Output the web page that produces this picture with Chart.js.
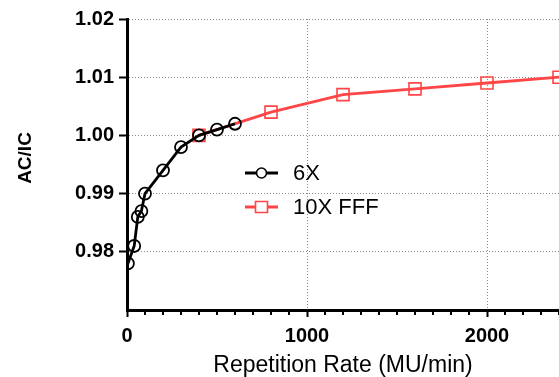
<!DOCTYPE html>
<html><head><meta charset="utf-8">
<script src="https://cdn.jsdelivr.net/npm/chart.js@4"></script>
<style>html,body{margin:0;padding:0;background:#fff;overflow:hidden}</style>
</head><body>
<canvas id="c" width="559" height="377"></canvas>
<script>
const x6X = [5, 40, 60, 80, 100, 200, 300, 400, 500, 600];
const y6X = [0.978, 0.981, 0.986, 0.987, 0.990, 0.994, 0.998, 1.000, 1.001, 1.002];
const xFFF = [400, 800, 1200, 1600, 2000, 2400];
const yFFF = [1.000, 1.004, 1.007, 1.008, 1.009, 1.010];
const seriesNames = ['6X', '10X FFF'];
const xMajorTicks = [0, 1000, 2000];
const yTickLabels = ['0.98', '0.99', '1.00', '1.01', '1.02'];
const xTitle = 'Repetition Rate (MU/min)';
const yTitle = 'AC/IC';

const FONT = "'Liberation Sans', Arial, sans-serif";
const BLACK = '#000000';
const RED = '#ff4545';
const GRID = '#8a8a8a';

const toPts = (xs, ys) => xs.map((x, i) => ({x: x, y: ys[i]}));
const isMajorX = v => xMajorTicks.includes(v);
const yLabelFor = v => { const s = v.toFixed(2); return yTickLabels.includes(s) ? s : ''; };

const minorTicks = {
  id: 'minorTicks',
  afterDraw(chart) {
    const s = chart.scales.x, ctx = chart.ctx;
    ctx.save();
    ctx.strokeStyle = BLACK; ctx.lineWidth = 2;
    for (let v = s.min + 100; v <= s.max; v += 100) {
      if (isMajorX(v)) continue;
      const px = Math.round(s.getPixelForValue(v));
      ctx.beginPath(); ctx.moveTo(px, s.top); ctx.lineTo(px, s.top + 5); ctx.stroke();
    }
    ctx.restore();
  }
};

const yAxisTitle = {
  id: 'yAxisTitle',
  afterDraw(chart) {
    const ctx = chart.ctx;
    ctx.save();
    ctx.translate(26, 158);
    ctx.rotate(-Math.PI / 2);
    ctx.fillStyle = BLACK;
    ctx.font = 'bold 19px ' + FONT;
    ctx.textAlign = 'center'; ctx.textBaseline = 'middle';
    ctx.fillText(yTitle, 0, 0);
    ctx.restore();
  }
};

const legendInside = {
  id: 'legendInside',
  afterDraw(chart) {
    const ctx = chart.ctx;
    const rows = [
      {ds: chart.data.datasets[0], y: 173},
      {ds: chart.data.datasets[1], y: 207}
    ];
    ctx.save();
    rows.forEach(r => {
      const x0 = 245, x1 = 278, cx = 261.5;
      ctx.strokeStyle = r.ds.borderColor; ctx.lineWidth = 3;
      ctx.beginPath(); ctx.moveTo(x0, r.y); ctx.lineTo(x1, r.y); ctx.stroke();
      ctx.lineWidth = 1.6; ctx.fillStyle = '#fff';
      if (r.ds.pointStyle === 'circle') {
        ctx.beginPath(); ctx.arc(cx, r.y, 5, 0, Math.PI * 2); ctx.fill(); ctx.stroke();
      } else {
        ctx.beginPath(); ctx.rect(cx - 6, r.y - 5.5, 12, 11); ctx.fill(); ctx.stroke();
      }
      ctx.fillStyle = BLACK; ctx.font = '22px ' + FONT;
      ctx.textBaseline = 'middle'; ctx.textAlign = 'left';
      ctx.fillText(r.ds.label, 293, r.y + 1);
    });
    ctx.restore();
  }
};

new Chart(document.getElementById('c'), {
  type: 'line',
  data: {
    datasets: [
      {
        label: seriesNames[0], data: toPts(x6X, y6X),
        borderColor: BLACK, borderWidth: 2.8, backgroundColor: '#fff',
        pointStyle: 'circle', pointRadius: 6, pointBorderWidth: 1.8,
        pointBackgroundColor: 'rgba(255,255,255,0)', pointBorderColor: BLACK,
        tension: 0, order: 1
      },
      {
        label: seriesNames[1], data: toPts(xFFF, yFFF),
        borderColor: RED, borderWidth: 2.8, backgroundColor: '#fff',
        pointStyle: 'rect', pointRadius: 8.5, pointBorderWidth: 1.6,
        pointBackgroundColor: 'rgba(255,255,255,0)', pointBorderColor: RED,
        tension: 0, order: 2
      }
    ]
  },
  options: {
    responsive: false, animation: false,
    layout: {padding: {top: 19, left: 0, right: 0, bottom: 0}},
    plugins: {legend: {display: false}, tooltip: {enabled: false}},
    scales: {
      x: {
        type: 'linear', min: 0, max: 2400,
        afterFit: s => { s.height = 67; },
        ticks: {
          stepSize: 100, autoSkip: false, maxRotation: 0, padding: 7,
          color: BLACK, font: {family: FONT, size: 20, weight: 'bold'},
          callback: v => isMajorX(v) ? String(v) : ''
        },
        grid: {
          color: c => (c.tick && isMajorX(c.tick.value) && c.tick.value !== 0) ? GRID : 'rgba(0,0,0,0)',
          lineWidth: 1, tickLength: 7, tickWidth: 2,
          tickColor: c => (c.tick && isMajorX(c.tick.value)) ? BLACK : 'rgba(0,0,0,0)',
          tickBorderDash: []
        },
        border: {display: true, color: BLACK, width: 3, dash: [1, 2]},
        title: {
          display: true, text: xTitle, color: BLACK,
          font: {family: FONT, size: 23, lineHeight: 1}, padding: {top: 0, bottom: 0}
        }
      },
      y: {
        type: 'linear', min: 0.97, max: 1.02,
        afterFit: s => { s.width = 127; },
        ticks: {
          stepSize: 0.01, padding: 5, color: BLACK,
          font: {family: FONT, size: 20, weight: 'bold'},
          callback: v => yLabelFor(v)
        },
        grid: {
          color: c => (c.tick && yLabelFor(c.tick.value)) ? GRID : 'rgba(0,0,0,0)',
          lineWidth: 1, tickLength: 8, tickWidth: 2,
          tickColor: c => (c.tick && yLabelFor(c.tick.value)) ? BLACK : 'rgba(0,0,0,0)',
          tickBorderDash: []
        },
        border: {display: true, color: BLACK, width: 3, dash: [1, 2]},
        title: {display: false}
      }
    }
  },
  plugins: [minorTicks, yAxisTitle, legendInside, {
    id: 'fullWidth',
    afterLayout(chart) {
      const xs = chart.scales.x;
      const right = chart.width;
      if (Math.abs(xs.right - right) > 0.5) {
        chart.chartArea.right = right;
        xs.right = right; xs.width = right - xs.left;
        xs.configure();
      }
    }
  }]
});
</script>
</body></html>
